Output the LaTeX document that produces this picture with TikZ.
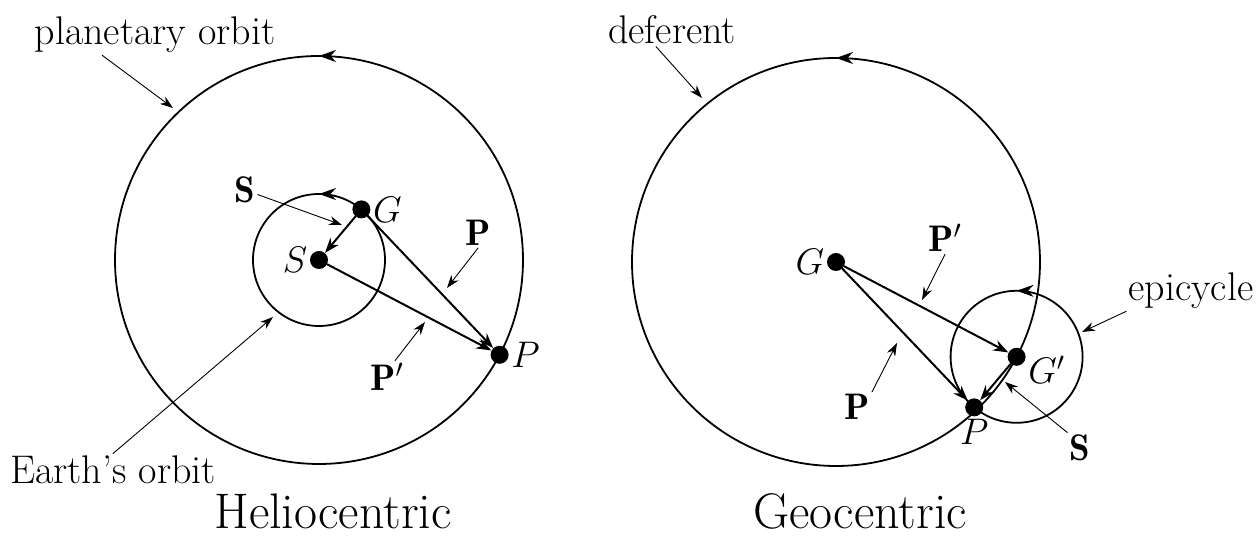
\RequirePackage{fix-cm}
\documentclass[tikz,border=0pt]{standalone}
\usepackage{amsmath,amssymb}
\usepackage{fontspec}
\usetikzlibrary{arrows.meta,decorations.markings}
\tikzset{
  dot/.style={circle,fill,inner sep=0pt,minimum size=9pt},
  vec/.style={line width=1pt,-{Stealth[length=7.5pt,width=5.5pt]}},
  pointer/.style={line width=0.45pt,-{Stealth[length=6.5pt,width=4.5pt]}},
  orbit/.style={line width=0.9pt,postaction={decorate},
    decoration={markings,mark=at position 0.25 with {\arrow{Stealth[length=8.5pt,width=6pt]}}}},
  lbl/.style={inner sep=1pt,font=\fontsize{18.5}{20}\selectfont},
  txt/.style={inner sep=1pt,font=\fontsize{20}{22}\selectfont},
  ttl/.style={anchor=base,inner sep=0pt,font=\fontsize{25}{28}\selectfont}
}
\begin{document}
\begin{tikzpicture}[x=0.5pt,y=0.5pt,line cap=round]
\useasboundingbox (0,0) rectangle (1260,539);
% heliocentric
\draw[orbit] (319,279) circle (204);
\draw[orbit] (319,279) circle (66);
\node[dot,label={[lbl]left:$S$}] (S) at (319,279) {};
\node[dot,label={[lbl]right:$G$}] (G) at (361.4,329.6) {};
\node[dot,label={[lbl]right:$P$}] (P) at (499.6,184.2) {};
\draw[vec] (G) -- (S);
\draw[vec] (G) -- (P);
\draw[vec] (S) -- (P);
\node[lbl] (hS) at (245,349) {$\mathbf{S}$};
\node[lbl] (hP) at (478,306) {$\mathbf{P}$};
\node[lbl] (hPp) at (387,162) {$\mathbf{P}'$};
\node[txt] (porb) at (155,504) {planetary orbit};
\node[txt] (eorb) at (113,69) {Earth’s orbit};
\coordinate (hStip) at (342,314);
\coordinate (hPtip) at (447,251);
\coordinate (hPptip) at (425,217);
\coordinate (porbtip) at (173,431);
\coordinate (eorbtip) at (273,222);
\draw[pointer] (hS) -- (hStip);
\draw[pointer] (hP.south) -- (hPtip);
\draw[pointer] ([xshift=4pt]hPp.north) -- (hPptip);
\draw[pointer] ([xshift=35pt]porb.south west) -- (porbtip);
\draw[pointer] (eorb.north) -- (eorbtip);
\node[ttl] (helio) at (333,10) {Heliocentric};
% geocentric
\draw[orbit] (836,277) circle (204);
\draw[orbit] (1016.6,182.2) circle (66);
\node[dot,label={[lbl]left:$G$}] (gG) at (836,277) {};
\node[dot,label={[lbl,yshift=-6.5pt]right:$G'$}] (gGp) at (1016.6,182.2) {};
\node[dot,label={[lbl]below:$P$}] (gP) at (974.2,131.6) {};
\draw[vec] (gG) -- (gGp);
\draw[vec] (gG) -- (gP);
\draw[vec] (gGp) -- (gP);
\node[lbl] (gPpl) at (945,301) {$\mathbf{P}'$};
\node[lbl] (gPl) at (857,132) {$\mathbf{P}$};
\node[lbl] (gSl) at (1080,91) {$\mathbf{S}$};
\node[txt] (defl) at (672,509) {deferent};
\node[txt] (epil) at (1191,248) {epicycle};
\coordinate (gPptip) at (922,239);
\coordinate (gPtip) at (897,196);
\coordinate (gStip) at (1005,157);
\coordinate (deftip) at (702,441);
\coordinate (epitip) at (1082,207);
\draw[pointer] (gPpl.south) -- (gPptip);
\draw[pointer] (gPl.north east) -- (gPtip);
\draw[pointer] (gSl.north west) -- (gStip);
\draw[pointer] ([xshift=-8pt]defl.south) -- (deftip);
\draw[pointer] (epil.south west) -- (epitip);
\node[ttl] (geo) at (860,10) {Geocentric};
\end{tikzpicture}
\end{document}
